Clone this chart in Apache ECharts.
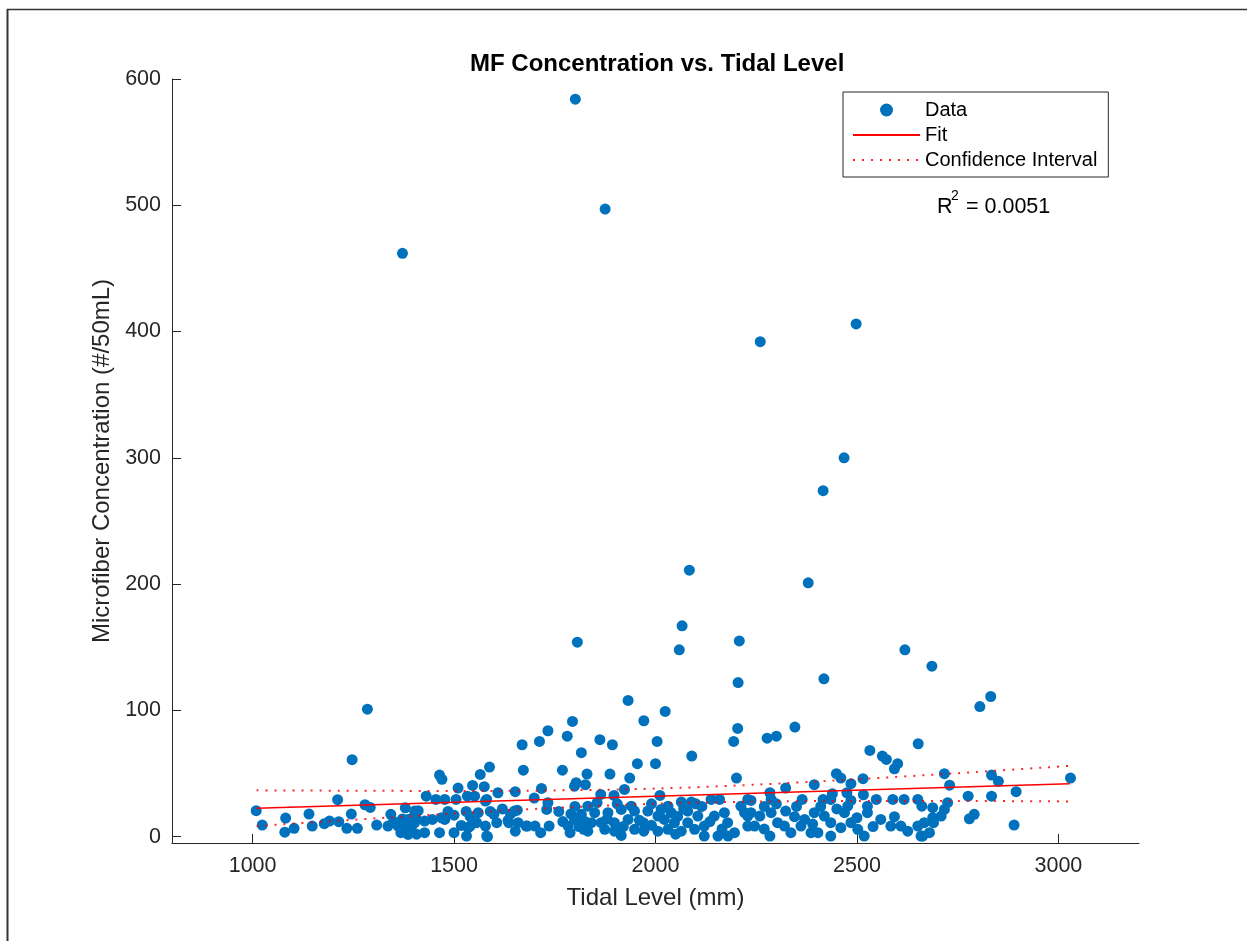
<!DOCTYPE html>
<html>
<head>
<meta charset="utf-8">
<title>MF Concentration vs. Tidal Level</title>
<script src="https://cdn.jsdelivr.net/npm/echarts@6/dist/echarts.min.js"></script>
<style>
  html, body { margin: 0; padding: 0; background: #fff; }
  #scatter-chart { width: 1255px; height: 941px; }
</style>
</head>
<body>
<div id="scatter-chart"></div>
<script>
// [tidal level (mm), microfiber concentration (#/50mL)]
var points = [
    [1801, 584], [1875, 497], [1372, 462], [2260, 392], [2498, 406], [2468, 300],
    [2416, 274], [2379, 201], [2084, 211], [2066, 167], [2059, 148], [1806, 154],
    [2208, 155], [2205, 122], [2418, 125], [2619, 148], [2686, 135], [2832, 111],
    [2805, 103], [1285, 101], [1247, 61],
    [1009, 20.6], [1024, 9.2], [1211, 29.3], [1082, 14.7], [1080, 3.6], [1103, 6.6],
    [1140, 17.9], [1148, 8.4], [1178, 10.3], [1191, 12.4], [1214, 11.9], [1234, 6.6],
    [1245, 17.9], [1260, 6.6], [1279, 25.3], [1292, 23.2], [1308, 9.2], [1336, 8.4],
    [1343, 17.7], [1361, 8.4], [1368, 3.2], [1379, 22.9], [1386, 13.7], [1402, 20.3],
    [1390, 7.1], [1350, 12], [1372, 14], [1395, 4.4], [1380, 10], [1398, 15],
    [1402, 11], [1407, 2], [1369, 5.8], [1386, 1.8],
    [1464, 48.8], [1470, 45.4], [1431, 32.1], [1455, 29.5], [1477, 29.5], [1510, 38.5],
    [1505, 29.5], [1533, 32.1], [1546, 40.6], [1551, 32.1], [1565, 49.3], [1588, 55.1],
    [1575, 39.6], [1581, 29.5], [1609, 34.8], [1652, 35.6], [1669, 72.8], [1672, 52.7],
    [1712, 75.4], [1733, 83.9], [1717, 38.2], [1699, 30.6], [1781, 79.6], [1794, 91.3],
    [1816, 66.5], [1769, 52.7], [1803, 42.7], [1799, 40], [1733, 26.9], [1730, 21.6],
    [1657, 21],
    [1411, 20.6], [1407, 13.7], [1427, 12.4], [1446, 13.7], [1469, 15], [1427, 3.2],
    [1464, 3.2], [1500, 3.2], [1518, 8.9], [1540, 8.4], [1556, 11.1], [1578, 8.4],
    [1581, 0.5], [1606, 11.1], [1599, 17.7], [1636, 11.1], [1652, 4.4], [1682, 8.4],
    [1701, 8.4], [1715, 3.2], [1736, 8.4], [1783, 8.4], [1788, 3.2], [1799, 13.7],
    [1816, 17.7], [1822, 5.8], [1394, 4.4], [1535, 7.1], [1531, 0.5], [1583, 0],
    [1634, 12.9], [1659, 11.1], [1679, 8.4], [1650, 20.3], [1578, 28.2], [1477, 13.7],
    [1760, 20], [1770, 12], [1800, 24], [1810, 8], [1825, 12], [1790, 18],
    [1620, 22], [1640, 18], [1590, 20], [1560, 19], [1530, 20], [1500, 17],
    [1485, 20], [1540, 16],
    [1932, 107.9], [2024, 99.2], [1971, 91.8], [1862, 76.8], [1893, 72.8], [2004, 75.4],
    [2204, 85.7], [2194, 75.4], [2090, 63.8], [1955, 57.8], [2000, 57.8], [1830, 49.6],
    [1887, 49.6], [1936, 46.4], [2201, 46.4], [1826, 41.2], [1923, 37.4], [1864, 33.5],
    [1897, 32.7], [2011, 32.7], [2138, 29.5], [2159, 29.5], [2064, 27.4], [2089, 27.4],
    [2229, 29.5],
    [1915, 1], [2155, 0.5], [2180, 0.5], [2196, 3.2], [1971, 4.4], [2006, 4.4],
    [2064, 4.4], [2097, 5.8], [1841, 11.1], [1865, 11.1], [1898, 11.1], [1932, 13.7],
    [1970, 11.1], [2022, 13.7], [2047, 11.1], [2080, 11.1], [2121, 8.4], [2146, 16.3],
    [2171, 19], [2179, 11.1], [2229, 16.3], [2229, 8.4], [1849, 19], [1882, 19],
    [1915, 21.6], [1948, 20.3], [1981, 20.3], [2014, 21.6], [2039, 19], [2080, 20.3],
    [2105, 16.3], [1832, 24.2], [1940, 24.2], [2031, 24.2], [2006, 16.3], [1874, 5.8],
    [1898, 4.4], [1948, 5.8], [2031, 5.8], [2121, 0.5], [1832, 4.4], [2212, 24.2],
    [2221, 19], [1855, 27], [1905, 26], [1960, 13], [1990, 9], [2055, 16],
    [2070, 22], [2115, 24], [2135, 12], [2165, 6], [1880, 14], [1920, 8],
    [2050, 2], [1990, 26], [2100, 26],
    [2277, 78], [2300, 79.6], [2346, 86.8], [2652, 73.6], [2532, 68.3], [2563, 63.8],
    [2573, 61.2], [2601, 57.8], [2593, 53.8], [2449, 49.9], [2460, 46.4], [2515, 45.9],
    [2485, 42], [2475, 34.8], [2394, 41.2], [2323, 38.5], [2284, 34.8], [2439, 34],
    [2516, 33.2], [2237, 28.7], [2364, 29.5], [2416, 29.5], [2548, 29.5], [2589, 29.5],
    [2617, 29.5], [2651, 29.5], [2661, 24.2],
    [2284, 0.5], [2259, 16.3], [2287, 19], [2323, 20.3], [2303, 11.1], [2345, 15.8],
    [2361, 8.4], [2386, 3.2], [2403, 3.2], [2394, 19], [2419, 16.3], [2435, 11.1],
    [2469, 19], [2477, 24.2], [2485, 11.1], [2502, 5.8], [2518, 0.5], [2526, 19],
    [2526, 24.2], [2559, 13.7], [2584, 8.4], [2593, 15.8], [2609, 8.4], [2626, 4.4],
    [2651, 8.4], [2659, 0.5], [2237, 19], [2246, 8.4], [2336, 3.2], [2435, 0.5],
    [2460, 7.1], [2320, 8.4], [2370, 13.7], [2287, 29.5], [2435, 29.5], [2485, 28.7],
    [2270, 24], [2300, 26], [2350, 24], [2410, 24], [2450, 22], [2500, 15],
    [2540, 8], [2270, 6], [2390, 10],
    [2717, 49.9], [2730, 40.8], [2834, 48.8], [2851, 43.8], [3030, 46.4], [2776, 32.1],
    [2834, 32.1], [2895, 35.6], [2725, 26.9], [2688, 23], [2717, 21.6], [2709, 16.3],
    [2791, 17.7], [2779, 14.2], [2688, 15], [2667, 11.1], [2690, 11.1], [2680, 3.2],
    [2663, 0.5], [2890, 9.2]
];

// linear fit, read at both ends
var fitX = [1010, 3028];
var fitY = [22.6, 42.0];

// confidence band
var ciX = [1010, 1250, 1500, 1750, 2000, 2250, 2500, 2750, 3028];
var ciUpper = [36.7, 36.4, 36.2, 36.6, 38.1, 41.2, 45.5, 50.3, 56.1];
var ciLower = [8.5, 13.4, 18.4, 22.8, 26.1, 27.8, 28.3, 28.3, 27.9];

var xTicks = [1000, 1500, 2000, 2500, 3000];
var yTicks = [0, 100, 200, 300, 400, 500, 600];

function zip(a, b) {
    return a.map(function (v, i) { return [v, b[i]]; });
}

var FONT = 'Liberation Sans, Arial, Helvetica, sans-serif';
var AXIS_COLOR = '#262626';
// legend entries for the lines: line sample only, no marker
var noMarker = { color: 'rgba(0,0,0,0)', borderWidth: 0, opacity: 0 };

var chart = echarts.init(document.getElementById('scatter-chart'));
var option = {
    animation: false,
    backgroundColor: '#fff',
    title: {
        text: 'MF Concentration vs. Tidal Level',
        left: 465,
        top: 47,
        textStyle: {
            fontFamily: FONT,
            fontWeight: 'bold',
            fontSize: 24,
            color: '#000'
        }
    },
    legend: {
        orient: 'vertical',
        left: 843,
        top: 92,
        padding: [8, 11, 7, 9],
        itemWidth: 67,
        itemHeight: 13,
        itemGap: 5,
        borderColor: AXIS_COLOR,
        borderWidth: 1,
        backgroundColor: '#fff',
        selectedMode: false,
        data: [
            { name: 'Data', icon: 'circle' },
            { name: 'Fit', itemStyle: noMarker },
            { name: 'Confidence Interval', itemStyle: noMarker }
        ],
        textStyle: { fontFamily: FONT, fontSize: 20, color: '#000' }
    },
    grid: {
        left: 172,
        right: 116,
        top: 79,
        bottom: 98,
        outerBoundsMode: 'none'
    },
    xAxis: {
        type: 'value',
        min: 800,
        max: 3200,
        name: 'Tidal Level (mm)',
        nameLocation: 'middle',
        nameGap: 43,
        nameTextStyle: { fontFamily: FONT, fontSize: 24, color: AXIS_COLOR },
        axisLine: { onZero: false, lineStyle: { color: AXIS_COLOR, width: 1 } },
        axisTick: {
            inside: true,
            length: 9,
            customValues: xTicks,
            lineStyle: { color: AXIS_COLOR }
        },
        axisLabel: {
            customValues: xTicks,
            margin: 12,
            fontFamily: FONT,
            fontSize: 21.5,
            color: AXIS_COLOR,
            formatter: function (v) { return String(v); }
        },
        splitLine: { show: false }
    },
    yAxis: {
        type: 'value',
        min: -5,
        max: 600,
        name: 'Microfiber Concentration (#/50mL)',
        nameLocation: 'middle',
        nameRotate: 90,
        nameGap: 56,
        nameTextStyle: { fontFamily: FONT, fontSize: 24, color: AXIS_COLOR },
        axisLine: { show: true, onZero: false, lineStyle: { color: AXIS_COLOR, width: 1 } },
        axisTick: {
            show: true,
            inside: true,
            length: 9,
            customValues: yTicks,
            lineStyle: { color: AXIS_COLOR }
        },
        axisLabel: {
            customValues: yTicks,
            margin: 11,
            fontFamily: FONT,
            fontSize: 21.5,
            color: AXIS_COLOR,
            formatter: function (v) { return String(v); }
        },
        splitLine: { show: false }
    },
    series: [{
        name: 'Data',
        type: 'scatter',
        symbol: 'circle',
        symbolSize: 11,
        itemStyle: { color: '#0072BD', opacity: 1 },
        data: points
    }, {
        name: 'Fit',
        type: 'line',
        symbol: 'none',
        lineStyle: { color: '#FF0000', width: 1.5 },
        itemStyle: { color: '#FF0000' },
        data: zip(fitX, fitY)
    }, {
        name: 'Confidence Interval',
        type: 'line',
        symbol: 'none',
        smooth: 0.3,
        lineStyle: { color: '#FF0000', width: 2, type: [2, 7], opacity: 0.85 },
        itemStyle: { color: '#FF0000' },
        data: zip(ciX, ciUpper)
    }, {
        name: 'Confidence Interval',
        type: 'line',
        symbol: 'none',
        smooth: 0.3,
        lineStyle: { color: '#FF0000', width: 2, type: [2, 7], opacity: 0.85 },
        itemStyle: { color: '#FF0000' },
        data: zip(ciX, ciLower)
    }],
    graphic: [
        // screenshot frame
        { type: 'line', shape: { x1: 7, y1: 9.5, x2: 1247, y2: 9.5 }, style: { stroke: '#333', lineWidth: 1.5 } },
        { type: 'line', shape: { x1: 7.5, y1: 9, x2: 7.5, y2: 941 }, style: { stroke: '#333', lineWidth: 2 } },
        // R squared annotation
        { type: 'text', left: 937, top: 196, style: { text: 'R', fill: '#000', font: '21.5px ' + FONT } },
        { type: 'text', left: 951, top: 189, style: { text: '2', fill: '#000', font: '14px ' + FONT } },
        { type: 'text', left: 966, top: 196, style: { text: '= 0.0051', fill: '#000', font: '21.5px ' + FONT } }
    ]
};

chart.setOption(option);
window.onresize = function () {
    chart.resize();
};
</script>
</body>
</html>
